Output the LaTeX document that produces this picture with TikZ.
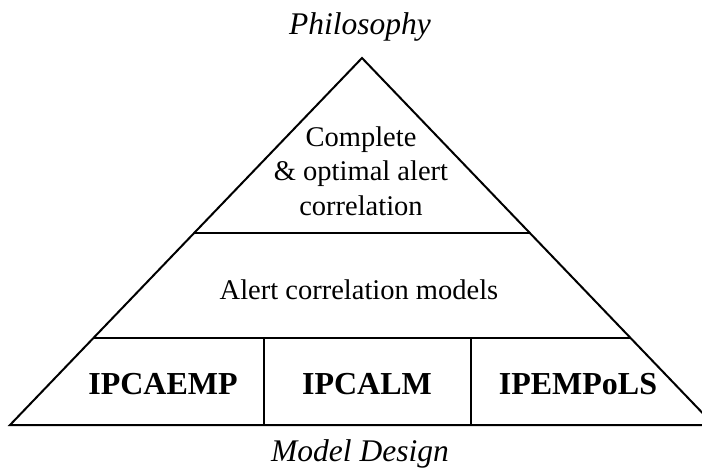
\documentclass[tikz,border=0pt]{standalone}
\usepackage{fontspec}
\setmainfont{Liberation Serif}
\usetikzlibrary{calc}
\begin{document}
\begin{tikzpicture}[x=1pt,y=-1pt,
  edge/.style={line width=2pt, line join=miter},
  lbl/.style={anchor=base, inner sep=0pt},
  titletext/.style={lbl, font=\fontsize{31.5}{37}\selectfont\itshape},
  bodytext/.style={lbl, font=\fontsize{28.5}{34}\selectfont},
  boldtext/.style={lbl, font=\fontsize{32}{38}\selectfont\bfseries}]
\useasboundingbox (0,0) rectangle (702,468);
\clip (0,0) rectangle (702,468);
% triangle
\coordinate (A) at (362,58);
\coordinate (L) at (10,425);
\coordinate (R) at (714,425);
\draw[edge] (L) -- (A) -- (R) -- cycle;
% dividers
\coordinate (u1) at ($(A)!0.4768!(L)$);
\coordinate (u2) at ($(A)!0.4768!(R)$);
\coordinate (l1) at ($(A)!0.7629!(L)$);
\coordinate (l2) at ($(A)!0.7629!(R)$);
\draw[edge] (u1) -- (u2);
\draw[edge] (l1) -- (l2);
\coordinate (v1t) at (264,338);
\coordinate (v1b) at (264,425);
\coordinate (v2t) at (471,338);
\coordinate (v2b) at (471,425);
\draw[edge] (v1t) -- (v1b);
\draw[edge] (v2t) -- (v2b);
% texts
\node[titletext] (phil) at (360,35) {Philosophy};
\node[titletext] (md) at (360,461) {Model Design};
\node[bodytext] (c1) at (361,147) {Complete};
\node[bodytext] (c2) at (361,181) {\& optimal alert};
\node[bodytext] (c3) at (361,215) {correlation};
\node[bodytext] (acm) at (359,299) {Alert correlation models};
\node[boldtext] (b1) at (163,394) {IPCAEMP};
\node[boldtext] (b2) at (367,394) {IPCALM};
\node[boldtext] (b3) at (578,394) {IPEMPoLS};
\end{tikzpicture}
\end{document}
